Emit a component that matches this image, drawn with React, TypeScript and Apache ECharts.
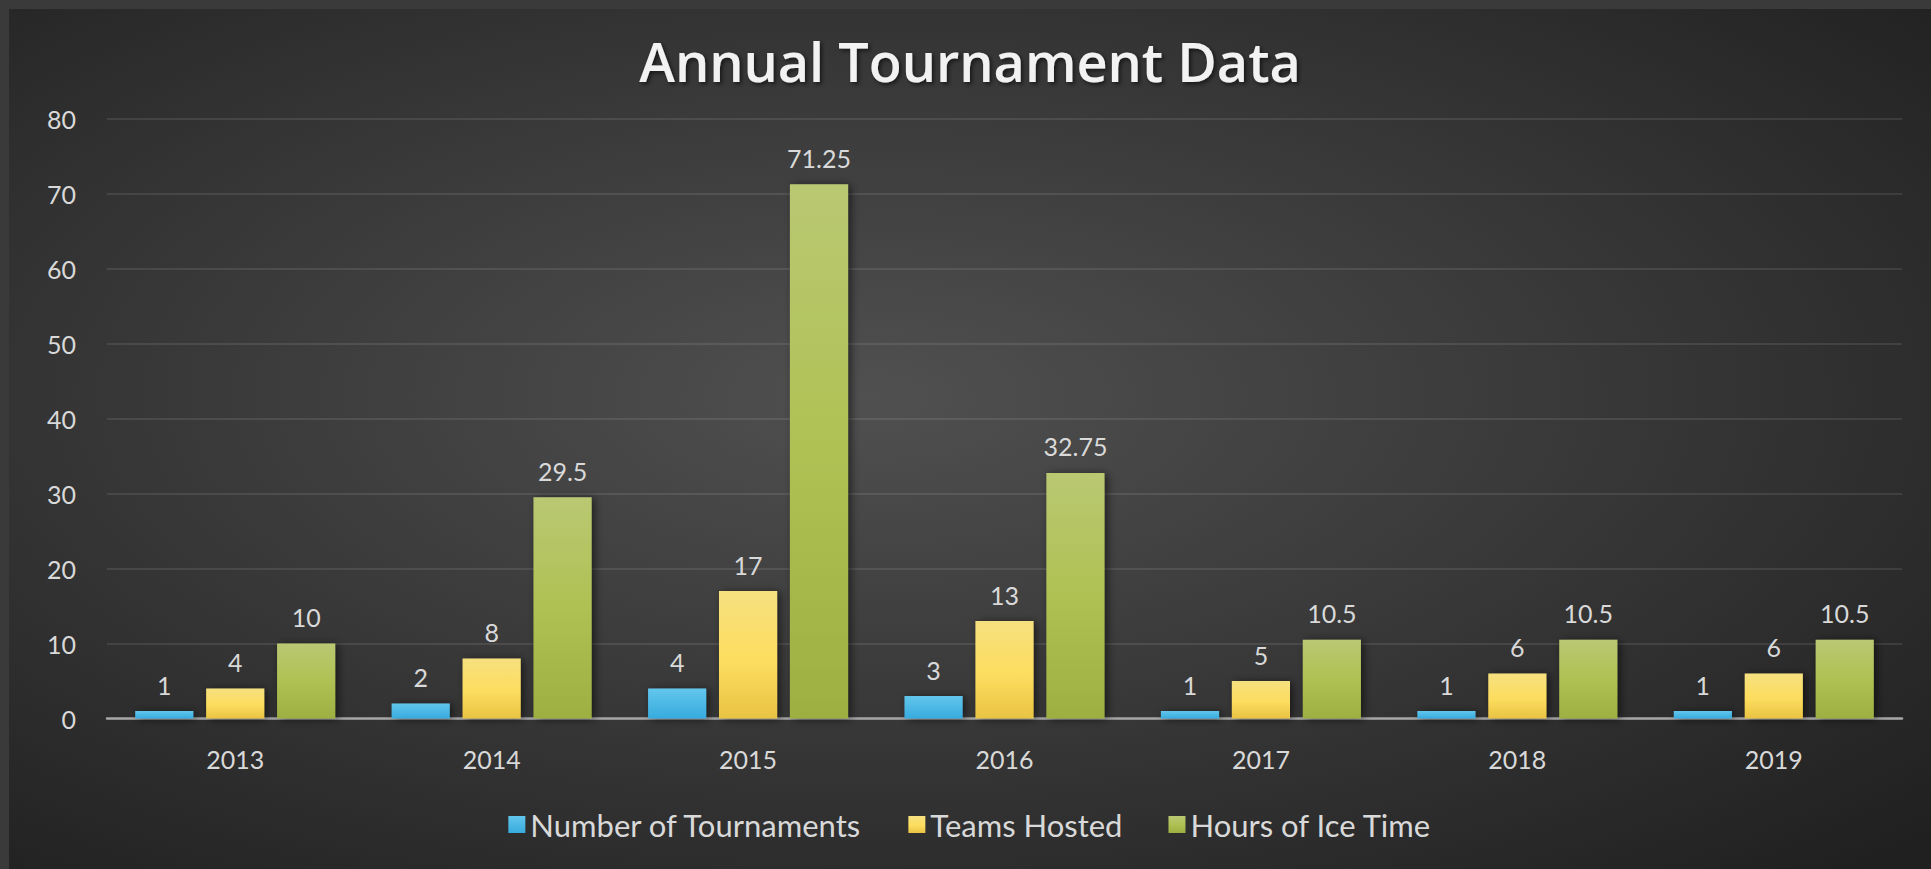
import React, { useEffect, useRef } from "react";
import * as echarts from "echarts";

const years = ["2013", "2014", "2015", "2016", "2017", "2018", "2019"];
const tournaments = [1, 2, 4, 3, 1, 1, 1];
const teamsHosted = [4, 8, 17, 13, 5, 6, 6];
const iceHours = [10, 29.5, 71.25, 32.75, 10.5, 10.5, 10.5];
const seriesNames = ["Number of Tournaments", "Teams Hosted", "Hours of Ice Time"];

const FONT = "Lato, 'Open Sans', sans-serif";
const TEXT = "#d9d9d9";

const grad = (stops: [number, string][]) =>
  new echarts.graphic.LinearGradient(0, 0, 0, 1, stops.map(([offset, color]) => ({ offset, color })));

export default function App() {
  const ref = useRef<HTMLDivElement>(null);
  useEffect(() => {
    if (!ref.current) return;
    const chart = echarts.init(ref.current, undefined, { renderer: "svg" });
    const mkSeries = (name: string, data: number[], colors: [number, string][]) => ({
      name,
      type: "bar",
      data,
      barGap: "22%",
      barCategoryGap: "22%",
      itemStyle: {
        color: grad(colors),
        shadowBlur: 8,
        shadowColor: "rgba(0,0,0,0.55)",
        shadowOffsetX: 3,
        shadowOffsetY: 1,
      },
      label: {
        show: true,
        position: "top",
        distance: 14,
        color: TEXT,
        fontFamily: FONT,
        fontSize: 25,
      },
    });
    chart.setOption({
      animation: false,
      backgroundColor: {
        type: "radial",
        x: 0.45,
        y: 0.45,
        r: 0.75,
        colorStops: [
          { offset: 0, color: "#505050" },
          { offset: 1, color: "#202020" },
        ],
      },
      title: {
        text: "Annual Tournament Data",
        left: "center",
        top: 20,
        textStyle: {
          color: "#f2f2f2",
          fontFamily: "'Open Sans', Lato, sans-serif",
          fontWeight: 600,
          fontSize: 54,
          textShadowColor: "rgba(0,0,0,0.6)",
          textShadowBlur: 4,
          textShadowOffsetX: 2,
          textShadowOffsetY: 2,
        },
      },
      legend: {
        data: seriesNames,
        bottom: 24,
        left: "center",
        icon: "rect",
        itemWidth: 17,
        itemHeight: 17,
        itemGap: 46,
        textStyle: { color: TEXT, fontFamily: FONT, fontSize: 31 },
      },
      grid: { left: 98, right: 29, top: 109.5, bottom: 150.5, containLabel: false },
      xAxis: {
        type: "category",
        data: years,
        axisLine: { lineStyle: { color: "#a6a6a6", width: 2.5 } },
        axisTick: { show: false },
        axisLabel: { color: TEXT, fontFamily: FONT, fontSize: 25, margin: 28 },
      },
      yAxis: {
        type: "value",
        min: 0,
        max: 80,
        interval: 10,
        axisLine: { show: false },
        axisTick: { show: false },
        axisLabel: { color: TEXT, fontFamily: FONT, fontSize: 25, margin: 31 },
        splitLine: { lineStyle: { color: "rgba(255,255,255,0.13)", width: 1.5 } },
      },
      series: [
        mkSeries(seriesNames[0], tournaments, [[0, "#62c6ec"], [1, "#37abde"]]),
        mkSeries(seriesNames[1], teamsHosted, [[0, "#f6e07f"], [0.55, "#fddd5f"], [1, "#e9c343"]]),
        mkSeries(seriesNames[2], iceHours, [[0, "#b9c872"], [0.5, "#afc153"], [1, "#9eaf42"]]),
      ],
    });
    return () => chart.dispose();
  }, []);
  return (
    <div style={{ position: "fixed", left: 0, top: 0, width: 1931, height: 869, background: "#3a3a3a", overflow: "hidden" }}>
      <div ref={ref} style={{ position: "absolute", left: 9, top: 9, width: 1922, height: 860 }} />
    </div>
  );
}
